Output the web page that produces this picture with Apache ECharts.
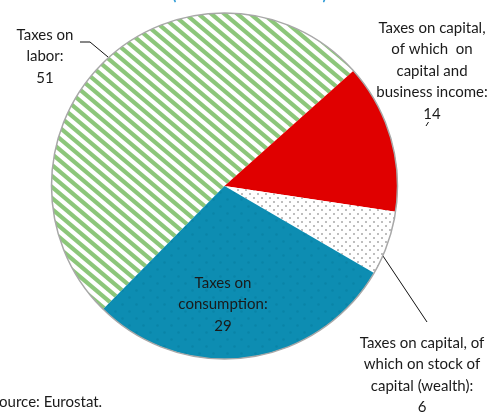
<!DOCTYPE html>
<html>
<head>
<meta charset="utf-8">
<script src="https://cdn.jsdelivr.net/npm/echarts@6/dist/echarts.min.js"></script>
<style>
  html, body { margin: 0; padding: 0; background: #fff; }
  #chart { width: 499px; height: 414px; }
</style>
</head>
<body>
<div id="chart"></div>
<script>
// Tax revenue structure (share of total)
const categories = [
  'Taxes on\nlabor',
  'Taxes on capital,\nof which  on\ncapital and\nbusiness income',
  'Taxes on capital, of\nwhich on stock of\ncapital (wealth)',
  'Taxes on\nconsumption'
];
const shares = [51, 14, 6, 29];
const titleText = '(% of total tax revenue)';
const sourceText = 'Source: Eurostat.';

// Fill patterns drawn on small canvases
function stripePattern() {
  const w = 13, h = 11;
  const c = document.createElement('canvas');
  c.width = w; c.height = h;
  const g = c.getContext('2d');
  g.fillStyle = '#ffffff';
  g.fillRect(0, 0, w, h);
  g.strokeStyle = '#8cc67a';
  g.lineWidth = 4.2;
  const lines = [[-w, -h, 2 * w, 2 * h], [-w, 0, w, 2 * h], [0, -h, 2 * w, h]];
  lines.forEach(([x0, y0, x1, y1]) => {
    g.beginPath(); g.moveTo(x0, y0); g.lineTo(x1, y1); g.stroke();
  });
  return c;
}
function dotPattern(bg, dot, size, r) {
  const c = document.createElement('canvas');
  c.width = size; c.height = size;
  const g = c.getContext('2d');
  g.fillStyle = bg;
  g.fillRect(0, 0, size, size);
  g.fillStyle = dot;
  [[size / 4, size / 4], [size * 3 / 4, size * 3 / 4]].forEach(([x, y]) => {
    g.beginPath(); g.arc(x, y, r, 0, Math.PI * 2); g.fill();
  });
  return c;
}

const fills = [
  { image: stripePattern(), repeat: 'repeat' },
  '#e00000',
  { image: dotPattern('#ffffff', '#a9a9a9', 8, 1.0), repeat: 'repeat' },
  { image: dotPattern('#0d8db2', '#0a84a7', 14, 1.2), repeat: 'repeat' }
];

// Label placement: centre x, top y, leader points from slice to label
const labelSpots = [
  { x: 45, y: 24, pts: [[108, 57], [90, 42], [80, 42]] },
  { x: 432, y: 17, pts: [[426, 126], [428.5, 122]] },
  { x: 422, y: 332, pts: [[383, 256], [427, 322]] },
  { x: 223, y: 272, pts: null }
];

const chart = echarts.init(document.getElementById('chart'));
chart.setOption({
  animation: false,
  textStyle: { fontFamily: 'Lato' },
  graphic: [
    {
      type: 'text', left: 'center', top: -12, x: 2,
      style: { text: titleText, fill: '#2e9bd6', font: 'bold 15px Lato' }
    },
    {
      type: 'text', left: -9, top: 395,
      style: { text: sourceText, fill: '#1a1a1a', font: '15px Lato' }
    }
  ],
  series: [
    {
      type: 'pie',
      center: [224.5, 186],
      radius: 173,
      startAngle: 225.4,
      clockwise: true,
      data: categories.map((name, i) => ({
        name, value: shares[i],
        itemStyle: { color: fills[i] },
        labelLine: { show: i !== 3 }
      })),
      itemStyle: { borderWidth: 0 },
      label: {
        show: true,
        position: 'outside',
        formatter: '{b}:\n{c}',
        color: '#1a1a1a',
        fontSize: 15,
        fontFamily: 'Lato',
        lineHeight: 21.5,
        align: 'center',
        overflow: 'none',
        width: 200,
        edgeDistance: 0,
        bleedMargin: 0
      },
      labelLine: { show: true, lineStyle: { color: '#111', width: 1 } },
      labelLayout: (params) => {
        const s = labelSpots[params.dataIndex];
        const out = { x: s.x, y: s.y, align: 'center', verticalAlign: 'top', width: 200 };
        if (s.pts) out.labelLinePoints = s.pts;
        return out;
      },
      emphasis: { disabled: true }
    },
    {
      // outline around the whole pie
      type: 'pie',
      center: [224.5, 186],
      radius: 173,
      silent: true,
      z: 5,
      data: [{ value: 1, itemStyle: { color: 'rgba(0,0,0,0)', borderColor: '#a8a8a8', borderWidth: 1.5 } }],
      label: { show: false },
      labelLine: { show: false }
    }
  ]
});
</script>
</body>
</html>
